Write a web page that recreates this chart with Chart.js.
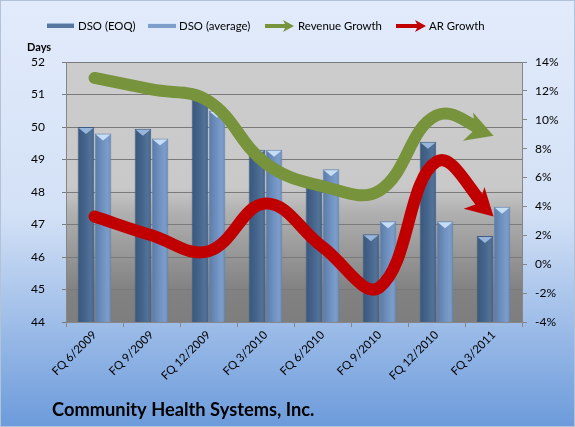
<!DOCTYPE html>
<html>
<head>
<meta charset="utf-8">
<script src="https://cdn.jsdelivr.net/npm/chart.js@4/dist/chart.umd.min.js"></script>
<style>
  html, body { margin: 0; padding: 0; background: #fff; }
  canvas { display: block; }
</style>
</head>
<body>
<canvas id="dsoChart" width="575" height="427"></canvas>
<script>
// --- data ---
const quarters = ['FQ 6/2009', 'FQ 9/2009', 'FQ 12/2009', 'FQ 3/2010', 'FQ 6/2010', 'FQ 9/2010', 'FQ 12/2010', 'FQ 3/2011'];
const dsoEoq = [50.0, 49.95, 51.0, 49.3, 48.3, 46.7, 49.55, 46.65];
const dsoAvg = [49.8, 49.65, 50.5, 49.3, 48.7, 47.1, 47.1, 47.55];
const revenueGrowth = [12.9, 12.1, 11.3, 7.0, 5.4, 5.1, 10.3, 8.9];
const arGrowth = [3.3, 2.0, 0.9, 4.2, 1.2, -1.6, 7.1, 3.3];

const FONT = 'Lato, "Open Sans", sans-serif';
const GREEN = '#77933c';
const RED = '#c00000';

Chart.defaults.font.family = FONT;
Chart.defaults.color = '#000';

// --- backgrounds: outer blue wash + grey plot area ---
const backdrop = {
    id: 'backdrop',
    beforeDraw(chart) {
        const { ctx, width, height, chartArea: a } = chart;
        ctx.save();
        const g = ctx.createLinearGradient(0, 0, 0, height);
        g.addColorStop(0, '#e2ebfb');
        g.addColorStop(0.5, '#d3e1f6');
        g.addColorStop(1, '#6c9bdb');
        ctx.fillStyle = g;
        ctx.fillRect(0, 0, width, height);
        ctx.strokeStyle = '#b3c2d8';
        ctx.strokeRect(0.5, 0.5, width - 1, height - 1);

        const p = ctx.createLinearGradient(0, a.top, 0, a.bottom);
        p.addColorStop(0, '#cccccc');
        p.addColorStop(0.48, '#c9c9c9');
        p.addColorStop(0.58, '#b0b0b0');
        p.addColorStop(0.88, '#818181');
        p.addColorStop(1, '#7e7e7e');
        ctx.fillStyle = p;
        ctx.fillRect(a.left, a.top, a.right - a.left, a.bottom - a.top);
        ctx.restore();
    }
};

// --- cylinder shading and little pyramid caps on the bars ---
const barCaps = {
    id: 'barCaps',
    afterDatasetDraw(chart, args) {
        if (args.meta.type !== 'bar') return;
        const ctx = chart.ctx;
        const bottom = chart.chartArea.bottom;
        const light = args.index === 1;
        ctx.save();
        args.meta.data.forEach(el => {
            const w = el.width, x = el.x, y = el.y;
            const sh = ctx.createLinearGradient(x - w / 2, 0, x + w / 2, 0);
            sh.addColorStop(0, 'rgba(20,35,60,0.25)');
            sh.addColorStop(0.45, 'rgba(20,35,60,0.05)');
            sh.addColorStop(0.75, 'rgba(255,255,255,0.06)');
            sh.addColorStop(1, 'rgba(20,35,60,0.15)');
            ctx.fillStyle = sh;
            ctx.fillRect(x - w / 2 + 1, y + 1, w - 2, Math.min(el.base, bottom) - y - 1);

            ctx.beginPath();
            ctx.moveTo(x - w / 2 + 1, y + 1);
            ctx.lineTo(x + w / 2 - 1, y + 1);
            ctx.lineTo(x, y + 7);
            ctx.closePath();
            ctx.fillStyle = light ? '#c6def5' : '#98b6dc';
            ctx.fill();
        });
        ctx.restore();
    }
};

// --- arrow heads at the end of the growth lines ---
function arrowGeom(meta) {
    const pts = meta.data;
    const last = pts[pts.length - 1];
    let dx = last.x - last.cp1x, dy = last.y - last.cp1y;
    if (!isFinite(dx) || Math.hypot(dx, dy) < 0.01) {
        const prev = pts[pts.length - 2];
        dx = last.x - prev.x; dy = last.y - prev.y;
    }
    const len = Math.hypot(dx, dy);
    const d = { x: dx / len, y: dy / len };
    const n = { x: -d.y, y: d.x };
    return { t: { x: last.x, y: last.y }, d, n };
}

const arrowHeads = {
    id: 'arrowHeads',
    beforeDatasetDraw(chart, args) {
        if (args.meta.type !== 'line') return;
        const { ctx, width, height } = chart;
        const { t, d, n } = arrowGeom(args.meta);
        const L = 27;
        const nx = t.x - d.x * L * 0.7, ny = t.y - d.y * L * 0.7;
        ctx.save();
        ctx.beginPath();
        ctx.rect(0, 0, width, height);
        ctx.moveTo(nx + n.x * 20, ny + n.y * 20);
        ctx.lineTo(nx + n.x * 20 + d.x * 60, ny + n.y * 20 + d.y * 60);
        ctx.lineTo(nx - n.x * 20 + d.x * 60, ny - n.y * 20 + d.y * 60);
        ctx.lineTo(nx - n.x * 20, ny - n.y * 20);
        ctx.closePath();
        ctx.clip('evenodd');
    },
    afterDatasetDraw(chart, args) {
        if (args.meta.type !== 'line') return;
        const ctx = chart.ctx;
        ctx.restore();
        const { t, d, n } = arrowGeom(args.meta);
        const L = 27, W = 15;
        ctx.save();
        ctx.beginPath();
        ctx.moveTo(t.x, t.y);
        ctx.lineTo(t.x - d.x * L + n.x * W, t.y - d.y * L + n.y * W);
        ctx.lineTo(t.x - d.x * L * 0.72, t.y - d.y * L * 0.72);
        ctx.lineTo(t.x - d.x * L - n.x * W, t.y - d.y * L - n.y * W);
        ctx.closePath();
        ctx.fillStyle = chart.data.datasets[args.index].borderColor;
        ctx.fill();
        ctx.restore();
    }
};

// --- legend, axis caption and title ---
function smallArrow(ctx, x0, x1, y, color) {
    ctx.strokeStyle = color;
    ctx.lineWidth = 4;
    ctx.beginPath();
    ctx.moveTo(x0, y);
    ctx.lineTo(x1 - 8, y);
    ctx.stroke();
    ctx.fillStyle = color;
    ctx.beginPath();
    ctx.moveTo(x1, y);
    ctx.lineTo(x1 - 11, y - 6);
    ctx.lineTo(x1 - 8, y);
    ctx.lineTo(x1 - 11, y + 6);
    ctx.closePath();
    ctx.fill();
}

const decorations = {
    id: 'decorations',
    afterDraw(chart) {
        const ctx = chart.ctx;
        ctx.save();
        const ly = 26;
        // bar swatches
        ctx.fillStyle = '#56769f';
        ctx.fillRect(47, ly - 3, 27, 5);
        ctx.fillStyle = '#9db7d9';
        ctx.fillRect(47, ly - 3, 27, 1);
        ctx.fillStyle = '#7e9fcb';
        ctx.fillRect(148, ly - 3, 28, 5);
        ctx.fillStyle = '#d2e4f7';
        ctx.fillRect(148, ly - 3, 28, 1);
        smallArrow(ctx, 265, 294, ly, GREEN);
        smallArrow(ctx, 396, 426, ly, RED);

        ctx.fillStyle = '#000';
        ctx.font = '11.4px ' + FONT;
        ctx.textBaseline = 'middle';
        ctx.fillText('DSO (EOQ)', 78, ly);
        ctx.fillText('DSO (average)', 179, ly);
        ctx.fillText('Revenue Growth', 298, ly);
        ctx.fillText('AR Growth', 429, ly);

        ctx.font = 'bold 11px ' + FONT;
        ctx.fillText('Days', 27, 47);

        ctx.font = 'bold 18.3px ' + FONT;
        ctx.fillText('Community Health Systems, Inc.', 52, 410);
        ctx.restore();
    }
};

new Chart(document.getElementById('dsoChart'), {
    data: {
        labels: quarters,
        datasets: [
            {
                type: 'bar', label: 'DSO (EOQ)', data: dsoEoq, yAxisID: 'y', order: 3,
                backgroundColor: '#476890', borderColor: '#3f5c84', borderWidth: 1,
                categoryPercentage: 0.6, barPercentage: 0.97
            },
            {
                type: 'bar', label: 'DSO (average)', data: dsoAvg, yAxisID: 'y', order: 4,
                backgroundColor: '#7396c6', borderColor: '#6384b3', borderWidth: 1,
                categoryPercentage: 0.6, barPercentage: 0.97
            },
            {
                type: 'line', label: 'Revenue Growth', data: revenueGrowth, yAxisID: 'y1', order: 2,
                borderColor: GREEN, borderWidth: 12, tension: 0.4, pointRadius: 0,
                borderCapStyle: 'round', borderJoinStyle: 'round', fill: false
            },
            {
                type: 'line', label: 'AR Growth', data: arGrowth, yAxisID: 'y1', order: 1,
                borderColor: RED, borderWidth: 12, tension: 0.4, pointRadius: 0,
                borderCapStyle: 'round', borderJoinStyle: 'round', fill: false
            }
        ]
    },
    options: {
        responsive: false,
        animation: false,
        layout: { padding: { top: 62, left: 0, right: 0, bottom: 0 } },
        plugins: { legend: { display: false }, tooltip: { enabled: false } },
        scales: {
            x: {
                afterFit: s => { s.height = 105; },
                grid: { drawOnChartArea: false, color: '#868686', tickLength: 5, offset: true },
                border: { color: '#868686' },
                ticks: { font: { size: 11.5 }, color: '#000', minRotation: 45, maxRotation: 45, padding: 1 }
            },
            y: {
                position: 'left', min: 44, max: 52,
                afterFit: s => { s.width = 66; },
                grid: { color: '#7a7a7a', tickLength: 4 },
                border: { color: '#868686' },
                ticks: { stepSize: 1, font: { size: 12 }, color: '#000', padding: 17 }
            },
            y1: {
                position: 'right', min: -4, max: 14,
                afterFit: s => { s.width = 53; },
                grid: { drawOnChartArea: false, color: '#868686', tickLength: 5 },
                border: { color: '#868686' },
                ticks: { stepSize: 2, font: { size: 12 }, color: '#000', padding: 8, callback: v => v + '%' }
            }
        }
    },
    plugins: [backdrop, barCaps, arrowHeads, decorations]
});
</script>
</body>
</html>
